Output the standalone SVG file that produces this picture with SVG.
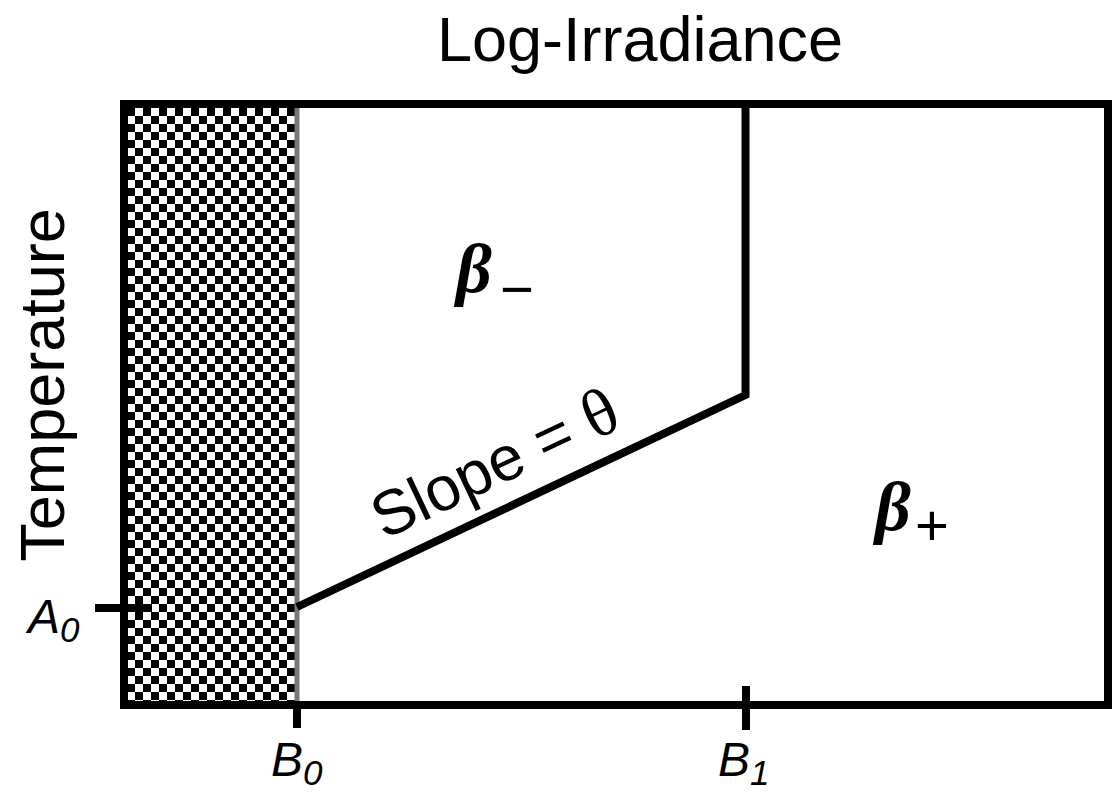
<svg xmlns="http://www.w3.org/2000/svg" width="1112" height="794" viewBox="0 0 1112 794">
<defs>
<pattern id="checker" x="127" y="108" width="16" height="16" patternUnits="userSpaceOnUse">
<rect width="16" height="16" fill="#fff"/>
<rect width="8" height="8" fill="#000"/>
<rect x="8" y="8" width="8" height="8" fill="#000"/>
</pattern>
<style>
.ln{stroke:#000;stroke-width:8;fill:none}
.sans{font-family:"Liberation Sans",Arial,sans-serif;fill:#000}
.it{font-style:italic}
.beta{font-family:"Liberation Serif","Times New Roman",serif;font-weight:bold;font-style:italic;fill:#000}
.serif{font-family:"Liberation Serif","Times New Roman",serif;fill:#000}
</style>
</defs>
<rect width="1112" height="794" fill="#fff"/>
<g id="shaded-region">
<rect x="125" y="104" width="172" height="601" fill="url(#checker)"/>
<line x1="297" y1="108" x2="297" y2="701" stroke="#777" stroke-width="5"/>
</g>
<g id="frame">
<rect x="124" y="104" width="984" height="601" class="ln"/>
</g>
<g id="connectors">
<polyline points="745.5,104 745.5,395 297,607" class="ln"/>
<line x1="95" y1="608" x2="152" y2="608" class="ln"/>
<line x1="297" y1="701" x2="297" y2="728" class="ln"/>
<line x1="746" y1="686" x2="746" y2="730" class="ln"/>
</g>
<g id="labels">
<text x="640" y="61" class="sans" font-size="63" text-anchor="middle">Log-Irradiance</text>
<text transform="translate(64,385) rotate(-90)" class="sans" font-size="63" text-anchor="middle">Temperature</text>
<text x="28" y="633" class="sans it" font-size="48">A<tspan font-size="35" dy="9">0</tspan></text>
<text x="271" y="776" class="sans it" font-size="48">B<tspan font-size="35" dy="9">0</tspan></text>
<text x="718" y="776" class="sans it" font-size="48">B<tspan font-size="35" dy="9">1</tspan></text>
<text transform="translate(384,540) rotate(-25.3)" class="sans" font-size="63">Slope = <tspan class="serif" font-size="68">θ</tspan></text>
</g>
<g id="beta-minus">
<text x="456" y="292" class="beta" font-size="70">β</text>
<text x="500" y="309" class="sans" font-size="58">−</text>
</g>
<g id="beta-plus">
<text x="875" y="530" class="beta" font-size="70">β</text>
<text x="915" y="545" class="sans" font-size="58">+</text>
</g>
</svg>
